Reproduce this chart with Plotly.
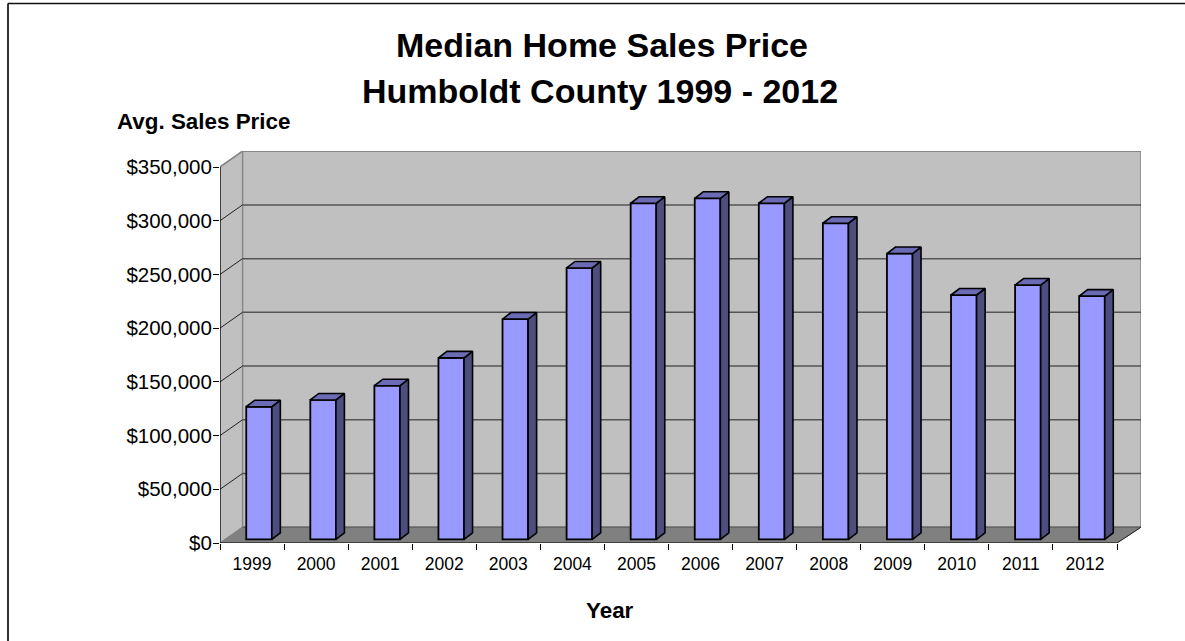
import plotly.graph_objects as go

years = ["1999","2000","2001","2002","2003","2004","2005","2006","2007","2008","2009","2010","2011","2012"]
prices = [123400,129700,143000,168900,205000,252600,312800,317400,312800,294200,266000,227400,236700,226400]
y_ticks = [0,50000,100000,150000,200000,250000,300000,350000]
y_labels = ["$0","$50,000","$100,000","$150,000","$200,000","$250,000","$300,000","$350,000"]

W, H = 1185, 641
L, R, T, B = 220, 1141, 151, 543
CAT_PX = (1117 - 220) / 14
VAL_PX = 376 / 350000
x0 = -0.5
x_end = x0 + (R - L) / CAT_PX
y_top = (B - T) / VAL_PX
xn = x0 + 14
ymax = y_ticks[-1]

DX = 22.5 / CAT_PX       # wall depth in x units
DY = 15.8 / VAL_PX       # wall depth in y units
BAR_W = 25.6 / CAT_PX
BAR_OFF = 7.0 / CAT_PX
BAR_BASE = 3.7 / VAL_PX
BDX = 8.5 / CAT_PX
BDY = 6.5 / VAL_PX
idx = list(range(len(years)))

def poly(pts, fill, line=None, w=1):
    return dict(type="path", xref="x", yref="y", layer="below",
                path="M " + " L ".join(f"{a},{b}" for a, b in pts) + " Z",
                fillcolor=fill, line=dict(color=line or fill, width=w))

def seg(a, b, c, d, color, w=1):
    return dict(type="line", xref="x", yref="y", layer="below", x0=a, y0=b, x1=c, y1=d,
                line=dict(color=color, width=w))

shapes = [
    poly([(x0+DX, DY), (x0+DX, ymax+DY), (x_end, ymax+DY), (x_end, DY)], "#C0C0C0", "#868686", 1.5),
    poly([(x0, 0), (x0, ymax), (x0+DX, ymax+DY), (x0+DX, DY)], "#C0C0C0", "#868686", 1.2),
    poly([(x0, 0), (xn, 0), (x_end, DY), (x0+DX, DY)], "#808080", "#808080", 1),
]
for v in y_ticks[:-1]:
    shapes.append(seg(x0+DX, v+DY, x_end, v+DY, "#555555" if v else "#666666", 1.5))
for v in y_ticks[1:-1]:
    shapes.append(seg(x0, v, x0+DX, v+DY, "#222222", 1))
shapes.append(seg(x0, ymax, x0+DX, ymax+DY, "#868686", 1.5))
shapes.append(seg(x0, 0, x0+DX, DY, "#868686", 1))
shapes.append(seg(xn, 0, x_end, DY, "#222222", 1))

def px(x): return (x - L) / (R - L)
def py(y): return (B - y) / (B - T)
shapes.append(dict(type="line", xref="paper", yref="paper", x0=px(8), x1=px(8), y0=py(3.5), y1=py(641),
                   line=dict(color="#333333", width=2)))
shapes.append(dict(type="line", xref="paper", yref="paper", x0=px(8), x1=px(1185), y0=py(3.5), y1=py(3.5),
                   line=dict(color="#111111", width=1.5)))

fig = go.Figure()
fig.add_trace(go.Bar(x=[i + BAR_OFF for i in idx], y=prices, base=BAR_BASE, width=BAR_W,
                     marker=dict(color="#9999FF", line=dict(color="#000000", width=1.8)),
                     hoverinfo="skip", showlegend=False))
for i, v in zip(idx, prices):
    xl = i + BAR_OFF - BAR_W/2
    xr = i + BAR_OFF + BAR_W/2
    top = BAR_BASE + v
    fig.add_trace(go.Scatter(x=[xr, xr+BDX, xr+BDX, xr, xr], y=[BAR_BASE, BAR_BASE+BDY, top+BDY, top, BAR_BASE],
                             mode="lines", fill="toself", fillcolor="#4D4D80",
                             line=dict(color="#000000", width=1.6), hoverinfo="skip", showlegend=False))
    fig.add_trace(go.Scatter(x=[xl, xr, xr+BDX, xl+BDX, xl], y=[top, top, top+BDY, top+BDY, top],
                             mode="lines", fill="toself", fillcolor="#6B6BB5",
                             line=dict(color="#000000", width=1.6), hoverinfo="skip", showlegend=False))
fig.add_trace(go.Scatter(x=[x0, x0, xn], y=[ymax, 0, 0], mode="lines", cliponaxis=False,
                         line=dict(color="#000000", width=1.2), hoverinfo="skip", showlegend=False))

FONT = "Liberation Sans, Arial, sans-serif"
def note(text, cx, cy, size, anchor="center"):
    return dict(text=text, xref="paper", yref="paper", x=px(cx), y=py(cy), xanchor=anchor, yanchor="middle",
                showarrow=False, font=dict(family=FONT, size=size, color="#000000"))

annotations = [
    note("<b>Median Home Sales Price</b>", 602, 45, 34),
    note("<b>Humboldt County 1999 - 2012</b>", 600, 91, 34),
    note("<b>Avg. Sales Price</b>", 203, 122, 22.4),
    note("<b>Year</b>", 610, 610, 22.4),
]

fig.update_layout(
    width=W, height=H, margin=dict(l=L, r=W-R, t=T, b=H-B),
    paper_bgcolor="#FFFFFF", plot_bgcolor="#FFFFFF",
    shapes=shapes, annotations=annotations, showlegend=False,
    font=dict(family=FONT, color="#000000"),
    xaxis=dict(range=[x0, x_end], tickmode="array", tickvals=idx, ticktext=years,
               ticks="outside", ticklen=5, tickwidth=1, tickcolor="rgba(0,0,0,0)",
               tickfont=dict(size=17.5, family=FONT), showgrid=False, zeroline=False, showline=False,
               minor=dict(tickmode="array", tickvals=[x0 + i for i in range(15)], ticks="outside",
                          ticklen=6, tickwidth=1, tickcolor="#000000", showgrid=False)),
    yaxis=dict(range=[0, y_top], tickmode="array", tickvals=y_ticks, ticktext=y_labels,
               ticks="outside", ticklen=6, tickwidth=1, tickcolor="#000000", ticklabelstandoff=-3,
               tickfont=dict(size=20.5, family=FONT), showgrid=False, zeroline=False, showline=False),
)
fig.write_html("out.html", config={"displayModeBar": False},
               post_script="document.body.style.margin='0';document.documentElement.style.overflow='hidden';")
